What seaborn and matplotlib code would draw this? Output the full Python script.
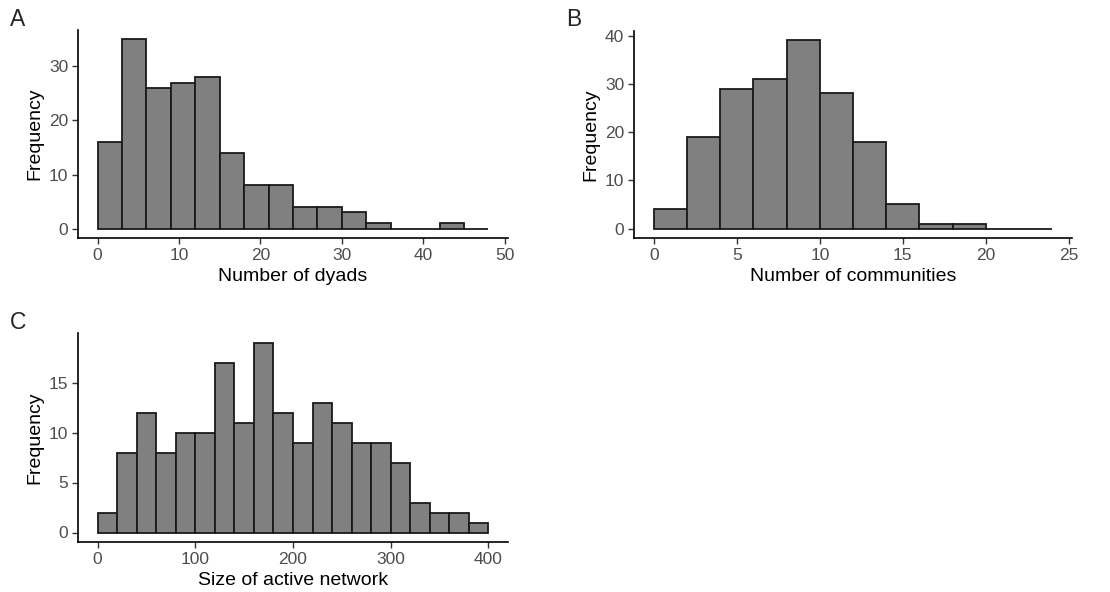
import numpy as np
import pandas as pd
import seaborn as sns
import matplotlib.pyplot as plt

# bin edges and counts
dyad_edges = list(range(0, 49, 3))
dyad_counts = [16, 35, 26, 27, 28, 14, 8, 8, 4, 4, 3, 1, 0, 0, 1, 0]

comm_edges = list(range(0, 25, 2))
comm_counts = [4, 19, 29, 31, 39, 28, 18, 5, 1, 1, 0, 0]

net_edges = list(range(0, 401, 20))
net_counts = [2, 8, 12, 8, 10, 10, 17, 11, 19, 12, 9, 13, 11, 9, 9, 7, 3, 2, 2, 1]

sns.set_style("white")
plt.rcParams['font.family'] = ['Liberation Sans', 'DejaVu Sans']

W, H = 1110, 592
fig = plt.figure(figsize=(W / 100, H / 100), dpi=100)


def px_axes(left, top, right, bottom):
    return fig.add_axes([left / W, 1 - bottom / H, (right - left) / W, (bottom - top) / H])


panels = [
    ("A", (78, 30, 508, 238), dyad_edges, dyad_counts, "Number of dyads",
     [0, 10, 20, 30, 40, 50], [0, 10, 20, 30]),
    ("B", (634, 31, 1072, 238), comm_edges, comm_counts, "Number of communities",
     [0, 5, 10, 15, 20, 25], [0, 10, 20, 30, 40]),
    ("C", (78, 333, 508, 542), net_edges, net_counts, "Size of active network",
     [0, 100, 200, 300, 400], [0, 5, 10, 15]),
]

for tag, box, edges, counts, xlabel, xt, yt in panels:
    ax = px_axes(*box)
    e = np.array(edges, dtype=float)
    df = pd.DataFrame({"x": (e[:-1] + e[1:]) / 2, "n": counts})
    sns.histplot(data=df, x="x", weights="n", bins=edges, ax=ax,
                 color="#808080", edgecolor="#1a1a1a", linewidth=1.3, alpha=1)
    span = edges[-1] - edges[0]
    ymax = max(counts)
    ax.set_xlim(edges[0] - 0.05 * span, edges[-1] + 0.05 * span)
    ax.set_ylim(-0.05 * ymax, ymax * 1.05)
    ax.set_xticks(xt)
    ax.set_yticks(yt)
    ax.set_xlabel(xlabel, fontsize=14, color="black", labelpad=4)
    ax.set_ylabel("Frequency", fontsize=14, color="black", labelpad=4)
    ax.tick_params(axis="both", labelsize=12.5, labelcolor="#4d4d4d", color="#333333",
                   length=4, width=1, direction="out", pad=3, left=True, bottom=True)
    for s in ("top", "right"):
        ax.spines[s].set_visible(False)
    for s in ("left", "bottom"):
        ax.spines[s].set_color("black")
        ax.spines[s].set_linewidth(1.2)
    fig.text((box[0] - 68) / W, 1 - (box[1] - 11) / H, tag, fontsize=16.5,
             ha="left", va="center")

fig.savefig("out.png", dpi=100)
